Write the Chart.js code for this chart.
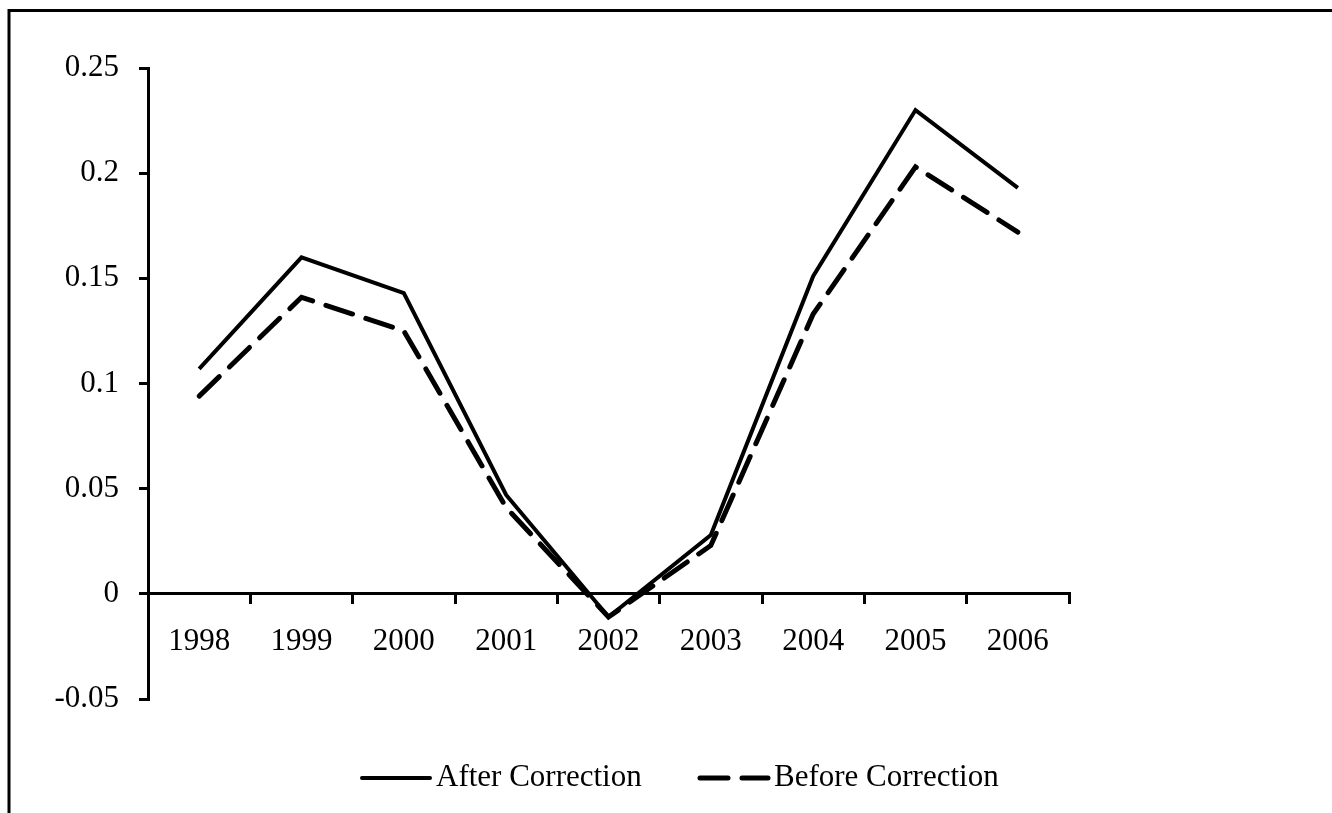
<!DOCTYPE html>
<html>
<head>
<meta charset="utf-8">
<script src="https://cdn.jsdelivr.net/npm/chart.js@4"></script>
<style>
  html, body { margin: 0; padding: 0; background: #fff; overflow: hidden; }
  #chart { display: block; }
</style>
</head>
<body>
<canvas id="chart" width="1332" height="813"></canvas>
<script>
        const years = ['1998', '1999', '2000', '2001', '2002', '2003', '2004', '2005', '2006'];
        const afterCorrection = [0.107, 0.160, 0.143, 0.047, -0.011, 0.028, 0.151, 0.230, 0.193];
        const beforeCorrection = [0.094, 0.141, 0.125, 0.041, -0.011, 0.023, 0.133, 0.203, 0.172];
        const yTickLabels = ['-0.05', '0', '0.05', '0.1', '0.15', '0.2', '0.25'];

        const serif = '"Liberation Serif", "Times New Roman", serif';

        // frame + legend drawn by hand so the spacing matches
        const framePlugin = {
            id: 'frameAndLegend',
            afterDraw(chart) {
                const ctx = chart.ctx;
                ctx.save();
                ctx.strokeStyle = '#000';
                ctx.lineWidth = 3;
                ctx.setLineDash([]);
                ctx.beginPath();
                ctx.moveTo(9, 900);
                ctx.lineTo(9, 10.5);
                ctx.lineTo(1400, 10.5);
                ctx.stroke();

                ctx.font = '31px ' + serif;
                ctx.fillStyle = '#000';
                ctx.textBaseline = 'middle';
                const y = 778;
                const starts = [360, 698];
                chart.data.datasets.forEach((ds, i) => {
                    const x = starts[i];
                    ctx.beginPath();
                    ctx.lineWidth = ds.borderWidth;
                    ctx.lineCap = 'round';
                    ctx.setLineDash(ds.borderDash || []);
                    ctx.moveTo(x + 2, y);
                    ctx.lineTo(x + 70, y);
                    ctx.stroke();
                    ctx.setLineDash([]);
                    ctx.fillText(ds.label, x + 76, y);
                });
                ctx.restore();
            }
        };

        const ctx = document.getElementById('chart').getContext('2d');
        const myChart = new Chart(ctx, {
            type: 'line',
            data: {
                labels: years,
                datasets: [{
                    label: 'After Correction',
                    data: afterCorrection,
                    borderColor: '#000',
                    borderWidth: 4,
                    pointRadius: 0,
                    tension: 0
                }, {
                    label: 'Before Correction',
                    data: beforeCorrection,
                    borderColor: '#000',
                    borderWidth: 5,
                    borderDash: [28, 14],
                    borderCapStyle: 'round',
                    pointRadius: 0,
                    tension: 0
                }]
            },
            options: {
                responsive: false,
                devicePixelRatio: 1,
                animation: false,
                layout: {
                    padding: { left: 0, top: 68, right: 263, bottom: 114 }
                },
                plugins: {
                    legend: { display: false },
                    tooltip: { enabled: false }
                },
                scales: {
                    x: {
                        position: { y: 0 },
                        offset: true,
                        grid: {
                            offset: true,
                            drawOnChartArea: false,
                            drawTicks: true,
                            tickLength: 9,
                            color: '#000',
                            lineWidth: 3
                        },
                        border: { display: true, color: '#000', width: 3 },
                        ticks: {
                            color: '#000',
                            padding: 20,
                            maxRotation: 0,
                            autoSkip: false,
                            font: { family: serif, size: 31 }
                        }
                    },
                    y: {
                        min: -0.05,
                        max: 0.25,
                        afterFit(scale) { scale.width = 148; },
                        grid: {
                            drawOnChartArea: false,
                            drawTicks: true,
                            tickLength: 9,
                            color: '#000',
                            lineWidth: 3
                        },
                        border: { display: true, color: '#000', width: 3 },
                        ticks: {
                            stepSize: 0.05,
                            color: '#000',
                            padding: 20,
                            font: { family: serif, size: 31 },
                            callback: (value, index) => yTickLabels[index]
                        }
                    }
                }
            },
            plugins: [framePlugin]
        });
</script>
</body>
</html>
